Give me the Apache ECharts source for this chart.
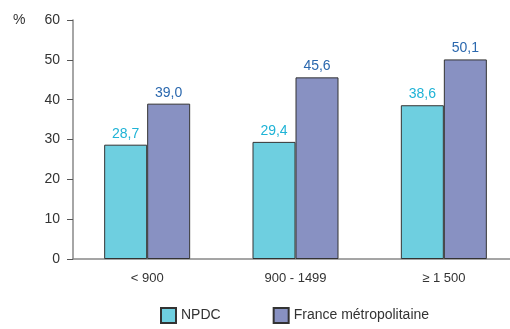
<!DOCTYPE html>
<html>
<head>
<meta charset="utf-8">
<script src="https://cdn.jsdelivr.net/npm/echarts@6/dist/echarts.min.js"></script>
<style>
  html, body { margin: 0; padding: 0; background: #fff; }
  #chart { width: 510px; height: 329px; }
</style>
</head>
<body>
<div id="chart"></div>
<script>
// Income brackets (categories) and shares for each area
const categories = ['< 900', '900 - 1499', '\u2265 1 500'];
const npdcValues = [28.7, 29.4, 38.6];
const franceValues = [39.0, 45.6, 50.1];
const yTicks = [0, 10, 20, 30, 40, 50, 60];
const seriesNames = ['NPDC', 'France métropolitaine'];

const font = 'Arial, "Liberation Sans", sans-serif';
const fmt = p => p.value.toFixed(1).replace('.', ',');

const chart = echarts.init(document.getElementById('chart'));
chart.setOption({
  animation: false,
  backgroundColor: '#fff',
  // the plot runs past the right edge, so the width is set explicitly
  grid: { left: 73, width: 445, top: 20, bottom: 70, containLabel: false,
          outerBoundsMode: 'none' },
  graphic: [{
    type: 'text', left: 13, top: 13,
    style: { text: '%', fill: '#333', font: '14px ' + font }
  }],
  legend: {
    bottom: 0, left: 155,
    itemWidth: 15, itemHeight: 15, itemGap: 52,
    icon: 'rect',
    textStyle: { color: '#333', fontSize: 14, fontFamily: font },
    data: seriesNames
  },
  xAxis: {
    type: 'category',
    data: categories,
    axisLine: { lineStyle: { color: '#888', width: 1.5 } },
    axisTick: { show: false },
    axisLabel: { color: '#333', fontSize: 13, fontFamily: font, margin: 13 }
  },
  yAxis: {
    type: 'value',
    min: yTicks[0], max: yTicks[yTicks.length - 1], interval: 10,
    splitLine: { show: false },
    axisLine: { show: true, lineStyle: { color: '#888', width: 1.5 } },
    axisTick: { show: true, length: 6, lineStyle: { color: '#555' } },
    axisLabel: { color: '#333', fontSize: 14, fontFamily: font, margin: 13 }
  },
  series: [
    {
      name: seriesNames[0], type: 'bar', data: npdcValues,
      barWidth: 43, barGap: '0%',
      itemStyle: { color: '#6ecfe0', borderColor: '#333', borderWidth: 1 },
      label: { show: true, position: 'top', distance: 4, formatter: fmt,
               color: '#1fb3d6', fontSize: 14, fontFamily: font }
    },
    {
      name: seriesNames[1], type: 'bar', data: franceValues,
      barWidth: 43,
      itemStyle: { color: '#8891c2', borderColor: '#333', borderWidth: 1 },
      label: { show: true, position: 'top', distance: 4, formatter: fmt,
               color: '#2b68ae', fontSize: 14, fontFamily: font }
    }
  ]
});
</script>
</body>
</html>
